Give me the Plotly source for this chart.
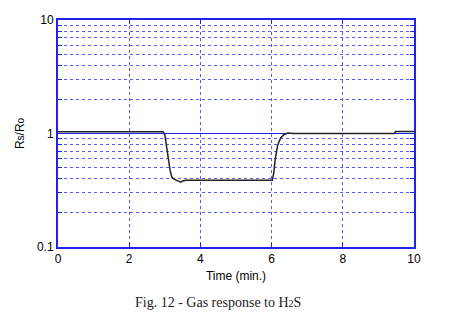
import plotly.graph_objects as go

time_min = [0, 2.95, 3.0, 3.05, 3.1, 3.15, 3.2, 3.3, 3.4, 3.45, 3.5, 3.6, 6.02, 6.06, 6.1, 6.17, 6.25, 6.35, 6.46, 6.6, 9.45, 9.48, 10]
rs_ro = [1.035, 1.035, 0.98, 0.8, 0.6, 0.47, 0.41, 0.39, 0.378, 0.372, 0.382, 0.387, 0.387, 0.45, 0.585, 0.79, 0.91, 0.98, 1.01, 1.0, 1.0, 1.04, 1.04]

x_ticks = [0, 2, 4, 6, 8, 10]
y_ticks = [0.1, 1, 10]
y_tick_labels = ["0.1", "1", "10"]
y_minor = [0.2, 0.3, 0.4, 0.5, 0.6, 0.7, 0.8, 0.9, 2, 3, 4, 5, 6, 7, 8, 9]

blue = "#2222ee"
grid_blue = "#5a5af2"

fig = go.Figure()
fig.add_trace(go.Scatter(x=time_min, y=rs_ro, mode="lines",
                         line=dict(color="#222222", width=1.5), showlegend=False))

fig.update_layout(
    width=457, height=315,
    margin=dict(l=58, r=43, t=20, b=68),
    paper_bgcolor="white", plot_bgcolor="white",
    font=dict(family="Liberation Sans, Arial", size=12, color="black"),
)
fig.update_xaxes(
    range=[0, 10], tickvals=x_ticks, ticks="inside", ticklen=4, tickcolor=blue,
    showline=True, linecolor=blue, linewidth=2, mirror="ticks",
    showgrid=True, gridcolor=grid_blue, griddash="dot", gridwidth=1,
    zeroline=False, tickfont=dict(size=12),
    title=dict(text="Time (min.)", font=dict(size=12), standoff=6),
)
fig.update_yaxes(
    type="log", range=[-1, 1], tickvals=y_ticks, ticktext=y_tick_labels,
    ticks="inside", ticklen=6, tickcolor=blue,
    showline=True, linecolor=blue, linewidth=2, mirror="ticks",
    showgrid=True, gridcolor=blue, gridwidth=1.2,
    minor=dict(tickmode="array", tickvals=y_minor, ticks="inside", ticklen=4, tickcolor=blue,
               showgrid=True, gridcolor=grid_blue, griddash="dot", gridwidth=1),
    tickfont=dict(size=12),
    title=dict(text="R<span style='font-size:10px'>s</span>/R<span style='font-size:10px'>o</span>",
               font=dict(size=12), standoff=10),
)
fig.add_annotation(
    text="Fig. 12 - Gas response to H<span style='font-size:10px'>2</span>S",
    xref="paper", yref="paper", x=0.45, y=-0.245, yanchor="middle",
    showarrow=False, font=dict(family="Liberation Serif, Times New Roman", size=14, color="#222222"),
)
fig.write_html("out.html")
